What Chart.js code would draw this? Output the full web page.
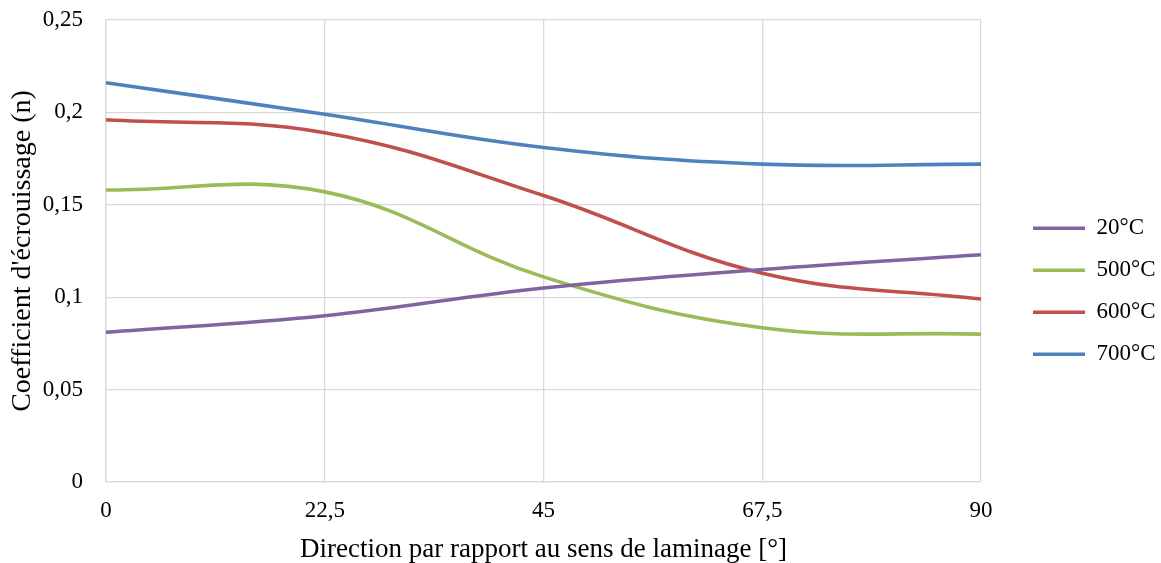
<!DOCTYPE html>
<html><head><meta charset="utf-8">
<script src="https://cdn.jsdelivr.net/npm/chart.js@4"></script>
<style>html,body{margin:0;padding:0;background:#fff}</style>
</head><body>
<canvas id="c" width="1161" height="563" style="display:block;width:1161px;height:563px"></canvas>
<script>
const categories = ['0', '22,5', '45', '67,5', '90'];
const yTickValues = [0, 0.05, 0.1, 0.15, 0.2, 0.25];
const seriesNames = ['20°C', '500°C', '600°C', '700°C'];
const values20 = [0.081, 0.090, 0.105, 0.115, 0.123];
const values500 = [0.158, 0.157, 0.111, 0.0835, 0.080];
const values600 = [0.196, 0.189, 0.155, 0.113, 0.099];
const values700 = [0.216, 0.199, 0.181, 0.172, 0.172];
const colors = ['#8064A2', '#9BBB59', '#C0504D', '#4F81BD'];

const FONT = "'Liberation Serif', 'Times New Roman', serif";
const allValues = [values20, values500, values600, values700];

const legendPos = {
  id: 'legendPos',
  beforeLayout(chart) {
    const lg = chart.legend;
    if (lg && !lg._patched) {
      const f = lg.fit;
      lg.fit = function () { f.call(this); this.width = 180; };
      lg._patched = true;
    }
  },
  afterLayout(chart) {
    const lg = chart.legend;
    if (lg) {
      lg.left = 1014; lg.right = 1161;
      lg.top = 20; lg.bottom = 562.6;
    }
  }
};

new Chart(document.getElementById('c'), {
  type: 'line',
  data: {
    labels: categories,
    datasets: seriesNames.map((n, i) => ({
      label: n,
      data: allValues[i],
      borderColor: colors[i],
      backgroundColor: colors[i],
      borderWidth: 3.6,
      pointRadius: 0,
      tension: 0.4,
      fill: false
    }))
  },
  options: {
    responsive: false,
    animation: false,
    layout: { padding: { top: 20, left: 0, right: 0, bottom: 0 } },
    plugins: {
      tooltip: { enabled: false },
      legend: {
        position: 'right',
        align: 'center',
        labels: {
          font: { family: FONT, size: 23 },
          color: '#000',
          boxWidth: 52,
          boxHeight: 3.6,
          padding: 19,
          generateLabels(chart) {
            return Chart.defaults.plugins.legend.labels.generateLabels(chart).map(l => {
              l.lineWidth = 0; l.fillStyle = l.strokeStyle; return l;
            });
          }
        }
      }
    },
    scales: {
      x: {
        type: 'category',
        offset: false,
        grid: { color: '#d9d9d9', lineWidth: 1.3, drawTicks: false, offset: false },
        border: { color: '#d9d9d9', width: 1.3 },
        ticks: { font: { family: FONT, size: 23 }, color: '#000', padding: 15, maxRotation: 0, autoSkip: false },
        title: { display: true, text: 'Direction par rapport au sens de laminage [°]', font: { family: FONT, size: 27, lineHeight: 1 }, color: '#000', padding: { top: 0, bottom: 0 } },
        afterFit(s) { s.height = 81; }
      },
      y: {
        min: 0, max: 0.25,
        grid: { color: '#d9d9d9', lineWidth: 1.3, drawTicks: false },
        border: { color: '#d9d9d9', width: 1.3 },
        afterBuildTicks(s) { s.ticks = yTickValues.map(v => ({ value: v })); },
        ticks: {
          font: { family: FONT, size: 23 }, color: '#000', padding: 23,
          callback: v => String(Math.round(v * 100) / 100).replace('.', ',')
        },
        title: { display: true, text: "Coefficient d'écrouissage (n)", font: { family: FONT, size: 28, lineHeight: 1 }, color: '#000', padding: { top: 9, bottom: 0 } },
        afterFit(s) { s.width = 106; s.paddingTop = 14; s.paddingBottom = 14; }
      }
    }
  },
  plugins: [legendPos]
});
</script>
</body></html>
